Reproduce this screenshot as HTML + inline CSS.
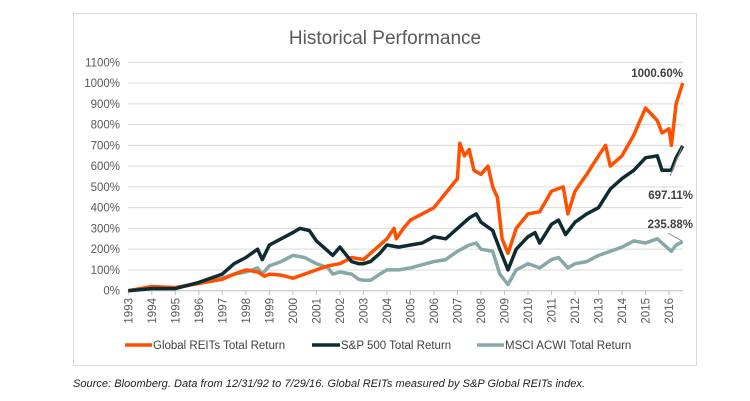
<!DOCTYPE html>
<html><head><meta charset="utf-8"><style>
body{margin:0;background:#fff;font-family:"Liberation Sans",sans-serif;}
svg{display:block}
</style></head><body>
<svg width="750" height="401" id="c">
<rect x="73.5" y="13.5" width="623" height="352" fill="none" stroke="#d9d9d9"/>
<text x="385" y="44" text-anchor="middle" font-size="19" fill="#595959">Historical Performance</text>
<g id="grid"></g><g id="xt"></g><g id="lines"></g>
<text x="683" y="77" text-anchor="end" font-size="11.5" font-weight="bold" fill="#404040">1000.60%</text>
<line x1="682" y1="147" x2="670" y2="176" stroke="#888"/>
<text x="693" y="199" text-anchor="end" font-size="11.5" font-weight="bold" fill="#404040">697.11%</text>
<line x1="668" y1="233" x2="682" y2="241" stroke="#888"/>
<text x="693" y="228" text-anchor="end" font-size="11.5" font-weight="bold" fill="#404040">235.88%</text>
<g font-size="11.5" fill="#404040">
<line x1="125" y1="345" x2="152" y2="345" stroke="#ff4f00" stroke-width="3.5"/><text x="153" y="349">Global REITs Total Return</text>
<line x1="312" y1="345" x2="340" y2="345" stroke="#0d2b30" stroke-width="3.5"/><text x="341" y="349">S&amp;P 500 Total Return</text>
<line x1="477" y1="345" x2="504" y2="345" stroke="#86a8a8" stroke-width="3.5"/><text x="505" y="349">MSCI ACWI Total Return</text>
</g>
<text x="73" y="387" font-size="11" font-style="italic" fill="#222" textLength="512">Source: Bloomberg. Data from 12/31/92 to 7/29/16.  Global REITs measured by S&amp;P Global REITs index.</text>
</svg>
<script>
const yTicks=[0,100,200,300,400,500,600,700,800,900,1000,1100];
const years=[1993,1994,1995,1996,1997,1998,1999,2000,2001,2002,2003,2004,2005,2006,2007,2008,2009,2010,2011,2012,2013,2014,2015,2016];
const reitsT=[1993,1994,1995,1996,1997,1997.5,1998,1998.5,1998.8,1999,1999.5,2000,2000.5,2001,2001.5,2002,2002.5,2003,2003.5,2004,2004.3,2004.4,2004.7,2005,2005.5,2006,2006.5,2007,2007.1,2007.3,2007.5,2007.7,2008,2008.3,2008.5,2008.7,2008.9,2009.15,2009.5,2010,2010.5,2011,2011.5,2011.7,2012,2012.5,2013,2013.3,2013.5,2014,2014.5,2015,2015.5,2015.7,2016,2016.1,2016.3,2016.58];
const reitsV=[0,20,15,35,55,80,100,90,70,80,75,60,80,100,120,130,160,150,200,250,300,250,300,340,370,400,470,540,710,650,680,580,560,600,500,450,250,180,300,370,380,480,500,370,480,560,650,700,600,650,750,880,820,760,780,700,900,1000.6];
const spT=[1993,1994,1995,1996,1997,1997.5,1998,1998.5,1998.7,1999,1999.5,2000,2000.3,2000.7,2001,2001.3,2001.7,2002,2002.5,2002.8,2003,2003.3,2003.7,2004,2004.5,2005,2005.5,2006,2006.5,2007,2007.5,2007.8,2008,2008.5,2008.8,2009.15,2009.5,2010,2010.3,2010.5,2011,2011.3,2011.6,2012,2012.5,2013,2013.5,2014,2014.5,2015,2015.5,2015.7,2016.1,2016.3,2016.58];
const spV=[0,10,10,40,80,130,160,200,150,220,250,280,300,290,240,210,170,210,140,130,130,140,180,220,210,220,230,260,250,300,350,370,330,290,200,100,200,260,280,230,320,340,270,330,370,400,490,540,580,640,650,580,580,640,697.11];
const msT=[1993,1994,1995,1996,1997,1997.5,1998,1998.5,1998.7,1999,1999.5,2000,2000.5,2001,2001.5,2001.7,2002,2002.5,2002.8,2003,2003.3,2003.7,2004,2004.5,2005,2006,2006.5,2007,2007.5,2007.8,2008,2008.5,2008.8,2009.15,2009.5,2010,2010.5,2011,2011.3,2011.7,2012,2012.5,2013,2013.5,2014,2014.5,2015,2015.5,2016,2016.1,2016.3,2016.58];
const msV=[0,15,15,35,60,80,90,110,80,120,140,170,160,130,110,80,90,80,55,50,50,80,100,100,110,140,150,190,220,230,200,190,80,30,100,130,110,150,160,110,130,140,170,190,210,240,230,250,200,190,220,235.88];
const NS='http://www.w3.org/2000/svg';
const x=t=>128.3+(t-1993)*23.51;
const y=v=>290.7-v*0.2076;
function mk(tag,at,par){const e=document.createElementNS(NS,tag);for(const k in at)e.setAttribute(k,at[k]);document.getElementById(par).appendChild(e);return e;}
yTicks.forEach(v=>{
 const l=mk('line',{x1:128,x2:683,y1:y(v),y2:y(v),stroke:v===0?'#bfbfbf':'#d9d9d9'},'grid');
 
 
 const t=mk('text',{x:120,y:y(v)+4,'text-anchor':'end','font-size':'11.5',fill:'#595959'},'grid');
 t.textContent=v+'%';
 
 
});
years.forEach(yr=>{
 const tk=mk('line',{x1:x(yr),x2:x(yr),y1:291,y2:295,stroke:'#bfbfbf'},'xt');
 
 
 const t=mk('text',{x:0,y:0,'text-anchor':'end','font-size':'11.5',fill:'#595959',transform:'translate('+(x(yr)+4)+',298) rotate(-90)'},'xt');
 t.textContent=yr;
 
 
});
function series(T,V,col,name){
 const d=T.map((t,i)=>(i?'L':'M')+x(t).toFixed(1)+','+y(V[i]).toFixed(1)).join('');
 const p=mk('path',{d:d,fill:'none',stroke:col,'stroke-width':3.5,'stroke-linejoin':'round'},'lines');
 
 
}
series(msT,msV,'#86a8a8','msci-acwi-line');
series(reitsT,reitsV,'#ff4f00','global-reits-line');
series(spT,spV,'#0d2b30','sp500-line');
</script>
</body></html>
